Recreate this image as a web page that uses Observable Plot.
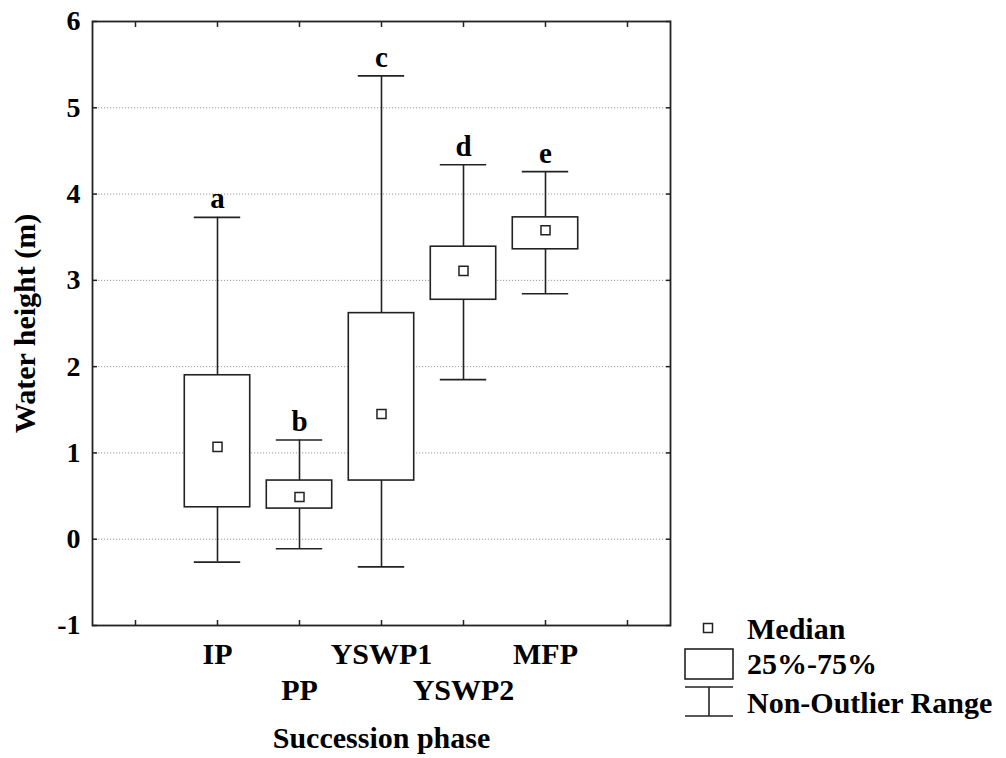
<!DOCTYPE html>
<html>
<head>
<meta charset="utf-8">
<script src="https://cdn.jsdelivr.net/npm/d3@7"></script>
<script src="https://cdn.jsdelivr.net/npm/@observablehq/plot@0.6"></script>
<style>
  html, body { margin: 0; padding: 0; background: #fff; }
  #wrap { position: relative; width: 1006px; height: 758px; font-family: "Liberation Serif", serif; font-weight: bold; }
  #legend { position: absolute; left: 680px; top: 612px; }
  svg text { font-family: "Liberation Serif", serif; font-weight: bold; }
</style>
</head>
<body>
<div id="wrap">
  <div id="chart"></div>
  <div id="legend"></div>
</div>
<script>
// ---- data ----
const phases   = ["IP", "PP", "YSWP1", "YSWP2", "MFP"];
const lowWhisk = [-0.265, -0.11, -0.32, 1.85, 2.845];
const q1       = [0.37, 0.355, 0.68, 2.775, 3.36];
const medians  = [1.07, 0.49, 1.45, 3.11, 3.58];
const q3       = [1.90, 0.68, 2.62, 3.39, 3.73];
const highWhisk= [3.73, 1.15, 5.37, 4.34, 4.26];
const groups   = ["a", "b", "c", "d", "e"];
const yTicks   = [-1, 0, 1, 2, 3, 4, 5, 6];
const gridTicks= [0, 1, 2, 3, 4, 5];
const xDomain  = ["pad-left", ...phases, "pad-right"];
const yLabel = "Water height (m)";
const xLabel = "Succession phase";
const legendItems = ["Median", "25%-75%", "Non-Outlier Range"];

const rows = phases.map((p, i) => ({
  phase: p, lo: lowWhisk[i], q1: q1[i], med: medians[i], q3: q3[i], hi: highWhisk[i], grp: groups[i]
}));

const FONT = "Liberation Serif";
const ink = "#222";
const W = 1006, H = 758;
const mL = 92, mR = 336, mT = 21, mB = 133;
const step = (W - mL - mR) / xDomain.length;
const boxInset = (step - 66) / 2;
const capInset = (step - 47) / 2;
const txt = { fontFamily: FONT, fontWeight: "bold", fill: "#000" };

const chart = Plot.plot({
  width: W, height: H,
  marginLeft: mL, marginRight: mR, marginTop: mT, marginBottom: mB,
  style: { fontFamily: FONT, fontWeight: "bold", color: "#000", background: "#fff" },
  x: { type: "band", domain: xDomain, padding: 0, axis: null },
  y: { domain: [-1, 6], axis: null },
  marks: [
    Plot.gridY(gridTicks, { stroke: "#9a9a9a", strokeOpacity: 1, strokeDasharray: "1.2,1.8", strokeWidth: 1 }),
    // whiskers
    Plot.ruleX(rows, { x: "phase", y1: "lo", y2: "hi", stroke: ink, strokeWidth: 1.6 }),
    Plot.tickY(rows, { x: "phase", y: "lo", stroke: ink, strokeWidth: 1.6, insetLeft: capInset, insetRight: capInset }),
    Plot.tickY(rows, { x: "phase", y: "hi", stroke: ink, strokeWidth: 1.6, insetLeft: capInset, insetRight: capInset }),
    // boxes
    Plot.barY(rows, { x: "phase", y1: "q1", y2: "q3", fill: "#fff", stroke: ink, strokeWidth: 1.6, insetLeft: boxInset, insetRight: boxInset }),
    // medians
    Plot.dot(rows, { x: "phase", y: "med", symbol: "square", r: 5.1, fill: "#fff", stroke: ink, strokeWidth: 1.5 }),
    // group letters
    Plot.text(rows, { x: "phase", y: "hi", text: "grp", lineAnchor: "bottom", dy: -9, fontSize: 29, ...txt }),
    // ticks (inside)
    Plot.axisX(xDomain, { anchor: "bottom", tickSize: 5, dy: -5, tickFormat: () => "", label: null, stroke: ink, strokeWidth: 1.5 }),
    Plot.axisX(xDomain, { anchor: "top", tickSize: 5, dy: 5, tickFormat: () => "", label: null, stroke: ink, strokeWidth: 1.5 }),
    Plot.axisY(yTicks, { anchor: "left", tickSize: 5, dx: 5, tickFormat: () => "", label: null, stroke: ink, strokeWidth: 1.5 }),
    Plot.axisY(yTicks, { anchor: "right", tickSize: 5, dx: -5, tickFormat: () => "", label: null, stroke: ink, strokeWidth: 1.5 }),
    // y tick labels
    Plot.axisY(yTicks, { anchor: "left", tickSize: 0, tickPadding: 12, tickFormat: d => String(d), label: null, fontSize: 28, ...txt }),
    // staggered x labels
    Plot.text(phases.filter((d, i) => i % 2 === 0), { x: d => d, text: d => d, frameAnchor: "bottom", dy: 29, lineAnchor: "middle", fontSize: 30, ...txt }),
    Plot.text(phases.filter((d, i) => i % 2 === 1), { x: d => d, text: d => d, frameAnchor: "bottom", dy: 65, lineAnchor: "middle", fontSize: 30, ...txt }),
    // axis titles
    Plot.text([xLabel], { frameAnchor: "bottom", dy: 113, textAnchor: "middle", lineAnchor: "middle", fontSize: 30, ...txt }),
    Plot.text([yLabel], { frameAnchor: "left", dx: -67, rotate: -90, textAnchor: "middle", lineAnchor: "middle", fontSize: 30, ...txt }),
    Plot.frame({ stroke: ink, strokeWidth: 1.8 })
  ]
});
document.getElementById("chart").appendChild(chart);

// ---- legend (outside plot frame, lower right) ----
const lg = d3.select("#legend").append("svg").attr("width", 326).attr("height", 120)
  .style("font-family", FONT).style("font-weight", "bold");
// Median symbol
lg.append("rect").attr("x", 23.5).attr("y", 11.5).attr("width", 9).attr("height", 9)
  .attr("fill", "#fff").attr("stroke", ink).attr("stroke-width", 1.5);
// box symbol
lg.append("rect").attr("x", 5).attr("y", 37).attr("width", 48).attr("height", 30)
  .attr("fill", "#fff").attr("stroke", ink).attr("stroke-width", 1.6);
// whisker symbol
lg.append("line").attr("x1", 5).attr("x2", 53).attr("y1", 75).attr("y2", 75).attr("stroke", ink).attr("stroke-width", 1.6);
lg.append("line").attr("x1", 5).attr("x2", 53).attr("y1", 104).attr("y2", 104).attr("stroke", ink).attr("stroke-width", 1.6);
lg.append("line").attr("x1", 29).attr("x2", 29).attr("y1", 75).attr("y2", 104).attr("stroke", ink).attr("stroke-width", 1.6);
const ly = [16, 51, 90];
lg.selectAll("text.l").data(legendItems).join("text")
  .attr("x", 67).attr("y", (d, i) => ly[i]).attr("dy", "0.35em")
  .attr("font-size", 30).attr("fill", "#000").text(d => d);
</script>
</body>
</html>
